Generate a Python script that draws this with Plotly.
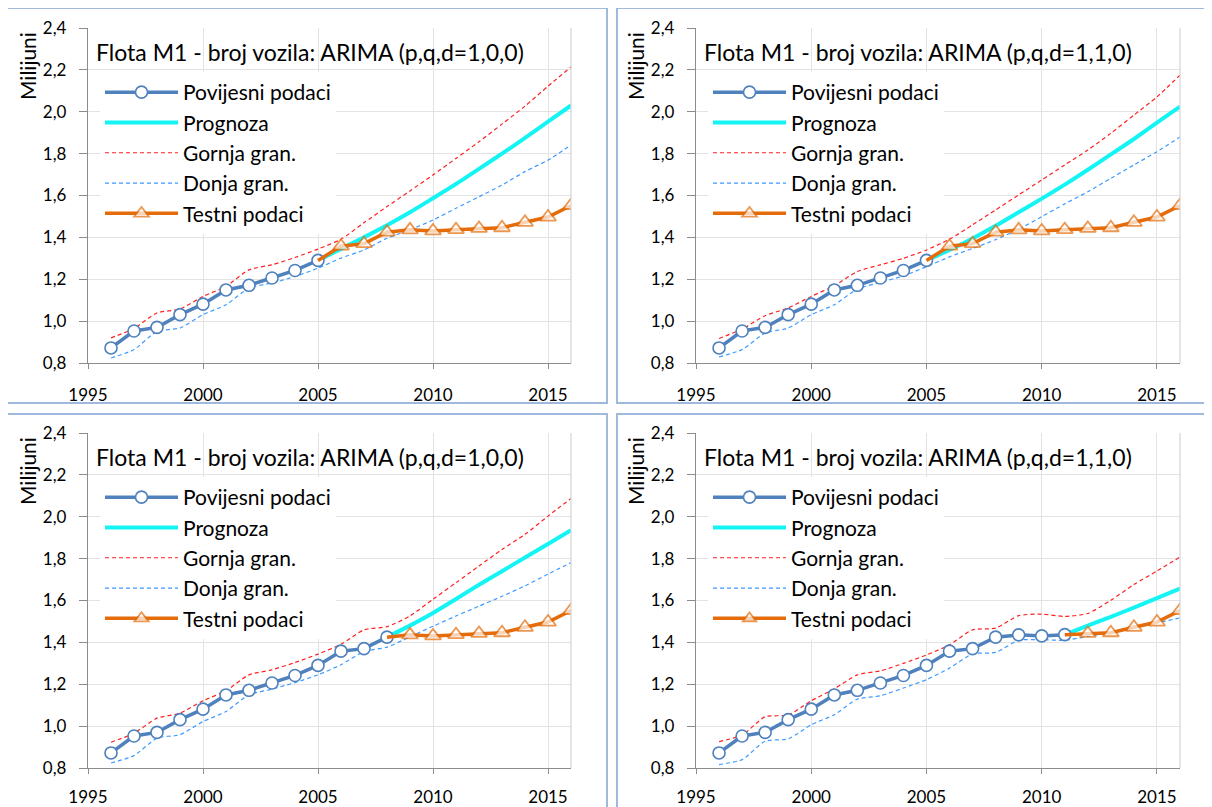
import plotly.graph_objects as go

# ---------------- data ----------------
years = list(range(1996, 2017))
actual = [0.872, 0.953, 0.970, 1.031, 1.081, 1.149, 1.171, 1.206, 1.242, 1.290,
          1.358, 1.370, 1.425, 1.436, 1.431, 1.437, 1.443, 1.446, 1.472, 1.497, 1.552]

titles = ["Flota M1 - broj vozila: ARIMA (p,q,d=1,0,0)",
          "Flota M1 - broj vozila: ARIMA (p,q,d=1,1,0)",
          "Flota M1 - broj vozila: ARIMA (p,q,d=1,0,0)",
          "Flota M1 - broj vozila: ARIMA (p,q,d=1,1,0)"]
hist_end = [2005, 2005, 2008, 2011]

# forecasts (start at the last historical year)
prog_1 = [1.290, 1.345, 1.400, 1.458, 1.520, 1.587, 1.655, 1.727, 1.800, 1.875, 1.953, 2.030]
prog_2 = [1.290, 1.340, 1.395, 1.455, 1.520, 1.585, 1.652, 1.723, 1.796, 1.870, 1.948, 2.025]
prog_3 = [1.425, 1.480, 1.540, 1.607, 1.675, 1.740, 1.805, 1.870, 1.936]
prog_4 = [1.437, 1.480, 1.522, 1.566, 1.611, 1.657]

upper_1 = [0.920, 0.965, 1.039, 1.058, 1.118, 1.166, 1.245, 1.269, 1.304, 1.344,
           1.391, 1.470, 1.547, 1.622, 1.698, 1.777, 1.857, 1.941, 2.027, 2.122, 2.214]
lower_1 = [0.824, 0.864, 0.951, 0.967, 1.031, 1.078, 1.158, 1.182, 1.213, 1.253,
           1.301, 1.340, 1.396, 1.436, 1.483, 1.539, 1.594, 1.650, 1.714, 1.769, 1.841]
upper_2 = [0.917, 0.962, 1.026, 1.063, 1.118, 1.169, 1.237, 1.269, 1.300, 1.340,
           1.391, 1.460, 1.531, 1.603, 1.674, 1.746, 1.817, 1.897, 1.984, 2.071, 2.175]
lower_2 = [0.829, 0.864, 0.943, 0.967, 1.031, 1.078, 1.153, 1.185, 1.216, 1.260,
           1.307, 1.347, 1.389, 1.439, 1.499, 1.560, 1.618, 1.682, 1.746, 1.809, 1.880]
upper_3 = [0.923, 0.966, 1.038, 1.062, 1.121, 1.169, 1.245, 1.269, 1.304, 1.344,
           1.391, 1.460, 1.475, 1.526, 1.606, 1.685, 1.765, 1.844, 1.916, 2.003, 2.087]
lower_3 = [0.824, 0.859, 0.943, 0.959, 1.022, 1.070, 1.150, 1.177, 1.208, 1.245,
           1.293, 1.356, 1.377, 1.427, 1.477, 1.526, 1.573, 1.620, 1.670, 1.726, 1.781]
upper_4 = [0.926, 0.957, 1.045, 1.053, 1.121, 1.178, 1.245, 1.264, 1.300, 1.340,
           1.388, 1.460, 1.468, 1.528, 1.535, 1.524, 1.538, 1.601, 1.676, 1.741, 1.808]
lower_4 = [0.816, 0.840, 0.928, 0.939, 1.007, 1.054, 1.129, 1.145, 1.182, 1.222,
           1.277, 1.345, 1.352, 1.410, 1.413, 1.410, 1.429, 1.445, 1.469, 1.493, 1.517]

prognoses = [prog_1, prog_2, prog_3, prog_4]
uppers = [upper_1, upper_2, upper_3, upper_4]
lowers = [lower_1, lower_2, lower_3, lower_4]

y_ticks = [0.8, 1.0, 1.2, 1.4, 1.6, 1.8, 2.0, 2.2, 2.4]
x_ticks = [1995, 2000, 2005, 2010, 2015]

# ---------------- layout geometry (screen pixels) ----------------
W, H = 1212, 807
OFF = 8  # page body margin offset of the figure
# plot areas: (left, right, top(2.4), bottom(0.8))
plot_px = [(88, 571, 28, 363), (696, 1180, 28, 363),
           (88, 571, 433, 768), (696, 1180, 433, 768)]
panel_px = [(7, 607, 8, 403), (617, 1210, 8, 403),
            (7, 607, 414, 830), (617, 1210, 414, 830)]
x_standoff = [11, 11, 8, 8]

FONT = "Lato"
C_BLUE = "#4F81BD"
C_CYAN = "#14F4F4"
C_RED = "#FF2020"
C_LBLUE = "#3D9BFF"
C_ORANGE = "#E46C0A"

fig = go.Figure()
layout = dict(width=W, height=H, margin=dict(l=0, r=0, t=0, b=0, autoexpand=False),
              paper_bgcolor="white", plot_bgcolor="white",
              separators=",.", font=dict(family=FONT, color="#000000"),
              shapes=[], annotations=[], showlegend=True)


def px_x(x):
    return (x - OFF) / W


def px_y(y):
    return 1 - (y - OFF) / H


for i in range(4):
    n = "" if i == 0 else str(i + 1)
    xa, ya = "x" + n, "y" + n
    lg = "legend" + n
    he = hist_end[i]
    nh = years.index(he) + 1

    # bounds
    fig.add_trace(go.Scatter(x=years, y=uppers[i], name="Gornja gran.", mode="lines",
                             line=dict(color=C_RED, width=1.2, dash="4px,3px", shape="spline", smoothing=0.6),
                             xaxis=xa, yaxis=ya, legend=lg, legendrank=3))
    fig.add_trace(go.Scatter(x=years, y=lowers[i], name="Donja gran.", mode="lines",
                             line=dict(color=C_LBLUE, width=1.2, dash="4px,3px", shape="spline", smoothing=0.6),
                             xaxis=xa, yaxis=ya, legend=lg, legendrank=4))
    # forecast
    fyears = list(range(he, 2017))
    fig.add_trace(go.Scatter(x=fyears, y=prognoses[i], name="Prognoza", mode="lines",
                             line=dict(color=C_CYAN, width=4, shape="spline", smoothing=0.6),
                             xaxis=xa, yaxis=ya, legend=lg, legendrank=2))
    # historical
    fig.add_trace(go.Scatter(x=years[:nh], y=actual[:nh], name="Povijesni podaci", mode="lines+markers",
                             line=dict(color=C_BLUE, width=3.5),
                             marker=dict(symbol="circle", size=12, color="white",
                                         line=dict(color=C_BLUE, width=1.6)),
                             xaxis=xa, yaxis=ya, legend=lg, legendrank=1))
    # test
    ty = years[nh - 1:]
    tv = actual[nh - 1:]
    sizes = [0] + [14] * (len(ty) - 1)
    fig.add_trace(go.Scatter(x=ty, y=tv, name="Testni podaci", mode="lines+markers",
                             line=dict(color=C_ORANGE, width=3.5),
                             marker=dict(symbol="triangle-up", size=sizes, color="white",
                                         line=dict(color=C_ORANGE, width=1.8)),
                             xaxis=xa, yaxis=ya, legend=lg, legendrank=5))

    l, r, t, b = plot_px[i]
    layout["xaxis" + n] = dict(domain=[px_x(l), px_x(r)], range=[1995, 2016], anchor=ya,
                               tickvals=x_ticks, ticktext=[str(v) for v in x_ticks],
                               showgrid=True, gridcolor="#E3E3E3", gridwidth=1,
                               showline=True, linecolor="#8C8C8C", linewidth=1.3,
                               ticks="outside", ticklen=5, tickcolor="#8C8C8C",
                               ticklabelstandoff=x_standoff[i],
                               tickfont=dict(size=17, family=FONT, color="#000"),
                               zeroline=False, fixedrange=True, automargin=False)
    layout["yaxis" + n] = dict(domain=[px_y(b), px_y(t)], range=[0.8, 2.4], anchor=xa,
                               tickvals=y_ticks, tickformat=".1f",
                               showgrid=True, gridcolor="#E3E3E3", gridwidth=1,
                               showline=True, linecolor="#8C8C8C", linewidth=1.3,
                               ticks="outside", ticklen=8, tickcolor="#8C8C8C",
                               ticklabelstandoff=9,
                               tickfont=dict(size=17, family=FONT, color="#000"),
                               zeroline=False, fixedrange=True, automargin=False)
    layout[lg] = dict(x=px_x(l + 12), y=px_y(t + 44), xanchor="left", yanchor="top",
                      bgcolor="white", borderwidth=0, itemwidth=73,
                      font=dict(size=21, family=FONT, color="#000"),
                      itemclick=False, itemdoubleclick=False, traceorder="normal")

    # right border of plot area
    layout["shapes"].append(dict(type="line", xref=xa + " domain", yref=ya + " domain",
                                 x0=1, x1=1, y0=0, y1=1, line=dict(color="#D4D4D4", width=1.2)))
    # panel border
    pl, pr, pt, pb = panel_px[i]
    layout["shapes"].append(dict(type="rect", xref="paper", yref="paper",
                                 x0=px_x(pl), x1=px_x(pr), y0=px_y(pb), y1=px_y(pt),
                                 line=dict(color="#9FB9DD", width=2), layer="below"))
    # title
    layout["annotations"].append(dict(text=titles[i], xref="paper", yref="paper",
                                      x=px_x(l + 6), y=px_y(t + 24), xanchor="left", yanchor="middle",
                                      showarrow=False, font=dict(size=23, family=FONT, color="#000")))
    # axis unit label
    layout["annotations"].append(dict(text="Milijuni", xref="paper", yref="paper",
                                      x=px_x(l - 61), y=px_y(t + 38), xanchor="center", yanchor="middle",
                                      textangle=-90, showarrow=False,
                                      font=dict(size=21, family=FONT, color="#000")))

fig.update_layout(**layout)
fig.write_html("out.html")
